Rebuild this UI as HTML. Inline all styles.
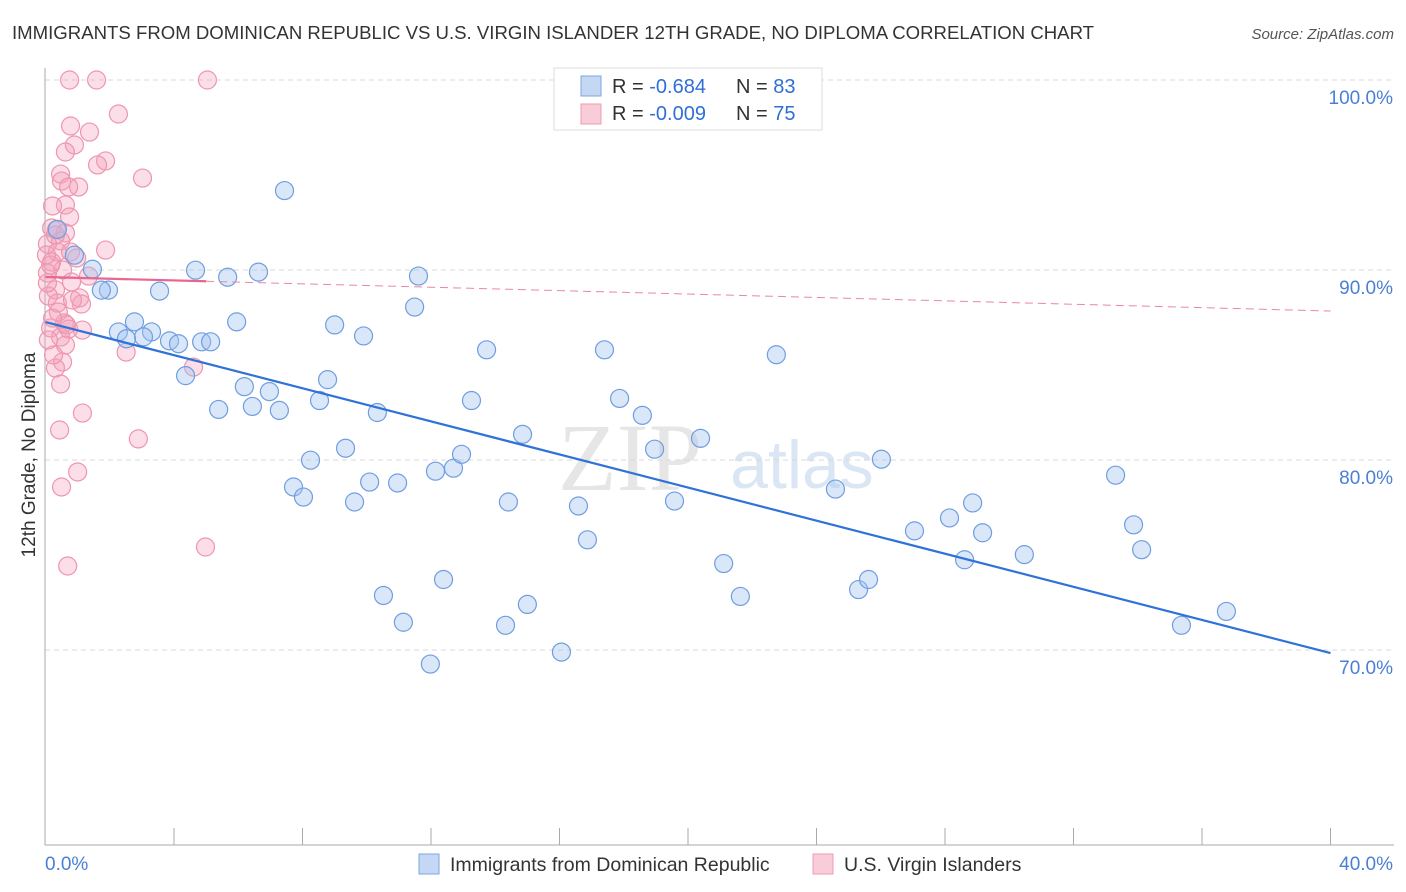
<!DOCTYPE html>
<html><head><meta charset="utf-8"><style>
body{margin:0;background:#fff;font-family:"Liberation Sans",sans-serif;}
#wrap{position:relative;width:1406px;height:892px;overflow:hidden;}
</style></head><body>
<div id="wrap">
<svg id="svg" width="1406" height="892" xmlns="http://www.w3.org/2000/svg">
<text x="12" y="39" font-size="18.6" fill="#333">IMMIGRANTS FROM DOMINICAN REPUBLIC VS U.S. VIRGIN ISLANDER 12TH GRADE, NO DIPLOMA CORRELATION CHART</text>
<text x="1394" y="39" font-size="15" fill="#555" font-style="italic" text-anchor="end">Source: ZipAtlas.com</text>
<text x="630" y="490" font-size="96" fill="#e6e6e6" font-family="Liberation Serif,serif" text-anchor="middle">ZIP</text>
<text x="802" y="488" font-size="68" fill="#dbe6f4" text-anchor="middle">atlas</text>
<g id="grid"></g><g id="pts"></g><g id="lines"></g>
<text transform="translate(35,455) rotate(-90)" font-size="19" fill="#333" text-anchor="middle">12th Grade, No Diploma</text>
<g>
<rect x="554" y="68" width="268" height="62" fill="#fff" stroke="#ddd"/>
<rect x="581" y="76" width="20" height="20" fill="#c4d8f4" stroke="#7ea6e0"/>
<rect x="581" y="104" width="20" height="20" fill="#f8ccd8" stroke="#ee9bb3"/>
<text x="612" y="93" font-size="20" fill="#333">R = <tspan fill="#2f6fd6">-0.684</tspan><tspan x="736">N = </tspan><tspan fill="#2f6fd6">83</tspan></text>
<text x="612" y="120" font-size="20" fill="#333">R = <tspan fill="#2f6fd6">-0.009</tspan><tspan x="736">N = </tspan><tspan fill="#2f6fd6">75</tspan></text>
</g>
<g>
<rect x="419" y="854" width="20" height="20" fill="#c4d8f4" stroke="#7ea6e0"/>
<text x="450" y="871" font-size="19.5" fill="#333">Immigrants from Dominican Republic</text>
<rect x="813" y="854" width="20" height="20" fill="#f8ccd8" stroke="#ee9bb3"/>
<text x="844" y="871" font-size="19.5" fill="#333">U.S. Virgin Islanders</text>
</g>
</svg>
</div>
<script>
const yTicks=[100,90,80,70];
const xTickVals=[4,8,12,16,20,24,28,32,36,40];
const blueX=[7.44,4.67,5.67,6.63,11.61,1.46,1.96,3.55,1.74,0.90,0.37,11.49,5.95,9.00,9.90,2.27,2.77,3.30,3.05,2.52,3.86,4.14,4.86,5.14,13.73,17.40,22.75,4.36,6.19,6.97,8.78,5.39,6.44,7.28,8.53,10.33,13.26,17.87,18.58,14.85,20.39,9.34,18.96,8.25,12.14,12.70,12.95,26.02,33.31,7.72,8.03,10.09,10.96,9.62,14.41,16.59,19.58,24.59,28.14,28.86,27.05,29.17,33.87,34.12,30.47,28.61,16.87,21.11,12.39,10.52,15.00,21.63,25.31,25.62,11.14,14.32,16.06,11.98,35.36,36.76];
const blueY=[94.18,89.99,89.62,89.89,89.68,90.04,88.94,88.89,88.94,90.78,92.14,88.05,87.27,87.11,86.53,86.74,87.27,86.74,86.48,86.38,86.27,86.12,86.22,86.22,85.80,85.80,85.54,84.44,83.86,83.60,84.23,82.66,82.82,82.61,83.13,82.50,83.13,83.24,82.35,81.35,81.14,80.62,80.57,79.99,79.41,79.57,80.30,80.04,79.20,78.58,78.05,78.84,78.79,77.79,77.79,77.58,77.84,78.47,76.95,77.74,76.27,76.17,76.59,75.28,75.02,74.75,75.80,74.55,73.71,72.87,72.40,72.82,73.18,73.71,71.46,71.30,69.89,69.26,71.30,72.03];
const pinkX=[0.75,1.59,5.04,2.27,0.78,1.37,0.90,0.62,1.87,1.62,3.02,0.47,0.50,1.03,0.72,0.62,0.22,0.75,0.19,0.34,0.62,0.47,0.06,0.37,0.78,1.87,0.97,0.19,0.53,1.34,0.06,0.81,0.31,1.06,1.12,0.09,0.37,0.40,0.59,0.72,1.15,0.16,0.47,0.62,0.53,0.31,2.51,0.47,1.15,0.44,2.89,1.0,0.50,4.98,0.69,4.61,0.06,0.16,0.31,0.03,0.65,0.09,0.84,0.22,0.25];
const pinkY=[100,100,100,98.21,97.58,97.26,96.58,96.21,95.74,95.53,94.84,95.05,94.68,94.37,94.37,93.42,93.37,92.79,92.21,92.11,91.95,91.53,91.37,90.95,90.95,91.05,90.63,90.42,90.0,89.68,89.84,89.37,88.95,88.53,88.21,88.63,88.26,87.79,87.21,86.89,86.84,86.95,86.47,86.05,85.16,84.84,85.68,84.0,82.47,81.58,81.11,79.37,78.58,75.42,74.42,84.89,89.32,90.26,91.84,90.79,87.11,86.32,88.42,87.47,85.53];
const blueLine=[87.26,69.84]; // values at x=0 and x=40
const pinkLine=[89.63,87.84];
const pinkSolidEnd=5;
const X=v=>45.5+v*32.125, Y=v=>80+(100-v)*19;
const NS="http://www.w3.org/2000/svg";
function mk(tag,attrs,parent){const e=document.createElementNS(NS,tag);for(const k in attrs)e.setAttribute(k,attrs[k]);parent.appendChild(e);return e;}
const svg=document.getElementById('svg'),grid=document.getElementById('grid'),pts=document.getElementById('pts'),lines=document.getElementById('lines');
yTicks.forEach(t=>{
  const l=mk('line',{x1:45,x2:1394,y1:Y(t),y2:Y(t),stroke:'#d8d8d8','stroke-dasharray':'5,4'},grid);
  
  
  const tx=mk('text',{x:1393,y:Y(t)+24,'font-size':19,fill:'#4a7fd6','text-anchor':'end'},grid);
  tx.textContent=t.toFixed(1)+'%';
  
  
});
const ax=mk('line',{x1:45,x2:45,y1:68,y2:845,stroke:'#aaa'},grid);


const bx=mk('line',{x1:45,x2:1394,y1:845,y2:845,stroke:'#aaa'},grid);


xTickVals.forEach(t=>{
  const l=mk('line',{x1:X(t),x2:X(t),y1:828,y2:845,stroke:'#aaa'},grid);
  
  
});
const xl0=mk('text',{x:45,y:870,'font-size':19,fill:'#4a7fd6'},grid);xl0.textContent='0.0%';


const xl1=mk('text',{x:1393,y:870,'font-size':19,fill:'#4a7fd6','text-anchor':'end'},grid);xl1.textContent='40.0%';


pinkX.forEach((x,i)=>{
  const c=mk('circle',{cx:X(x),cy:Y(pinkY[i]),r:9,fill:'rgba(244,160,185,0.35)',stroke:'#ee95b0','stroke-width':1.2},pts);
  
  
});
blueX.forEach((x,i)=>{
  const c=mk('circle',{cx:X(x),cy:Y(blueY[i]),r:9,fill:'rgba(160,195,240,0.4)',stroke:'#6f9ee0','stroke-width':1.2},pts);
  
  
});
const bl=mk('line',{x1:X(0),y1:Y(blueLine[0]),x2:X(40),y2:Y(blueLine[1]),stroke:'#2f72d8','stroke-width':2.2},lines);


const pm=pinkLine[0]+(pinkLine[1]-pinkLine[0])*pinkSolidEnd/40;
const pl=mk('line',{x1:X(0),y1:Y(pinkLine[0]),x2:X(pinkSolidEnd),y2:Y(pm),stroke:'#e86690','stroke-width':2.2},lines);


const pd=mk('line',{x1:X(pinkSolidEnd),y1:Y(pm),x2:X(40),y2:Y(pinkLine[1]),stroke:'#e986a6','stroke-width':1,'stroke-dasharray':'8,5'},lines);


</script>
</body></html>
